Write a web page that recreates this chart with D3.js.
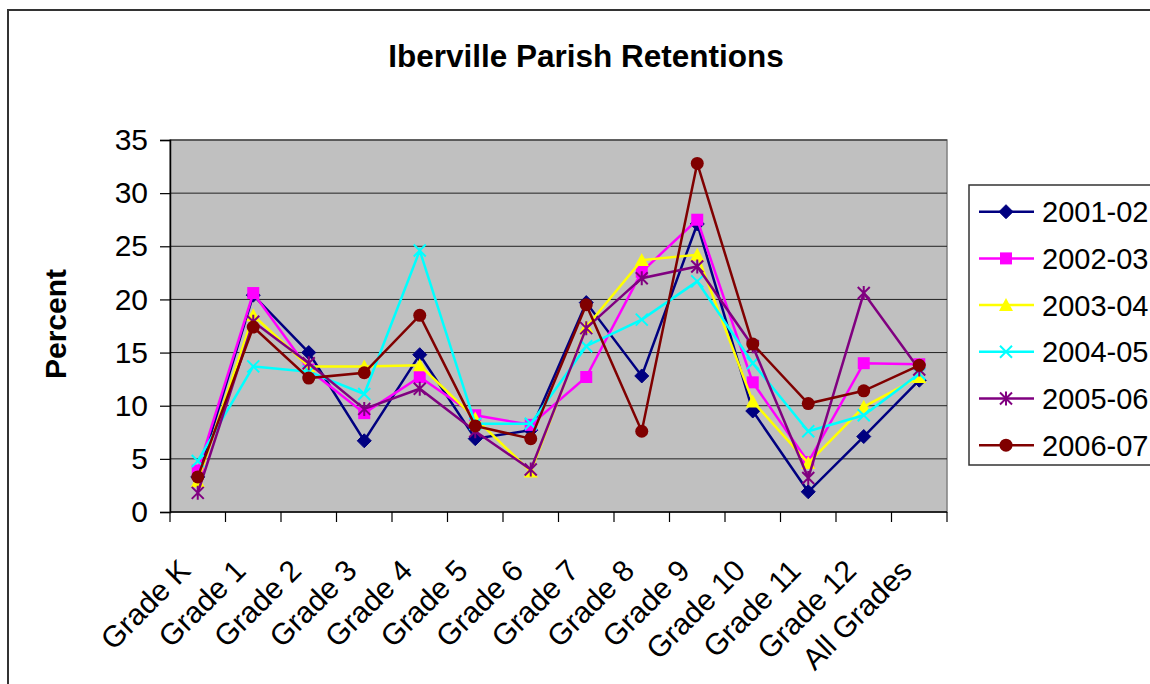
<!DOCTYPE html>
<html><head><meta charset="utf-8">
<script src="https://cdn.jsdelivr.net/npm/d3@7"></script>
<style>
html,body{margin:0;padding:0;background:#fff;overflow:hidden;}
text{font-family:"Liberation Sans",Arial,sans-serif;}
</style></head>
<body><svg id="c" width="1150" height="684"></svg>
<script>
const categories = ["Grade K","Grade 1","Grade 2","Grade 3","Grade 4","Grade 5","Grade 6","Grade 7","Grade 8","Grade 9","Grade 10","Grade 11","Grade 12","All Grades"];
const seriesNames = ["2001-02","2002-03","2003-04","2004-05","2005-06","2006-07"];
const s2001 = [3.3, 20.4, 15.0, 6.7, 14.8, 6.9, 7.7, 19.7, 12.8, 27.1, 9.5, 1.9, 7.1, 12.4];
const s2002 = [3.9, 20.6, 13.4, 9.3, 12.7, 9.1, 8.2, 12.7, 22.6, 27.5, 12.2, 4.7, 14.0, 13.9];
const s2003 = [2.9, 18.5, 13.7, 13.7, 13.8, 8.8, 3.8, 17.4, 23.7, 24.2, 10.4, 4.6, 9.9, 12.7];
const s2004 = [4.8, 13.7, 13.2, 11.1, 24.6, 8.3, 8.3, 15.6, 18.1, 21.7, 14.0, 7.6, 9.1, 13.0];
const s2005 = [1.8, 17.9, 14.0, 9.7, 11.6, 7.6, 4.0, 17.3, 22.0, 23.1, 15.6, 3.2, 20.6, 13.4];
const s2006 = [3.3, 17.4, 12.6, 13.1, 18.5, 8.1, 6.9, 19.5, 7.6, 32.8, 15.8, 10.2, 11.4, 13.8];
const yTicks = [0,5,10,15,20,25,30,35];
const colors = ["#000080","#FF00FF","#FFFF00","#00FFFF","#800080","#800000"];
const markers = ["diamond","square","triangle","x","star","circle"];
const allSeries = [s2001,s2002,s2003,s2004,s2005,s2006];

const svg = d3.select("#c");
const L=170, R=947, T=140, B=512;

// outer frame
svg.append("rect").attr("x",8).attr("y",10).attr("width",1200).attr("height",720)
  .attr("fill","#fff").attr("stroke","#333").attr("stroke-width",2);

const x = d3.scaleBand().domain(categories).range([L,R]).padding(0);
const y = d3.scaleLinear().domain([0,35]).range([B,T]);

// plot area
svg.append("rect").attr("x",L).attr("y",T).attr("width",R-L).attr("height",B-T)
  .attr("fill","#C0C0C0").attr("stroke","#808080").attr("stroke-width",1.5);

// gridlines
svg.append("g").selectAll("line").data(yTicks.filter(d=>d>0)).join("line")
  .attr("x1",L).attr("x2",R).attr("y1",d=>y(d)).attr("y2",d=>y(d))
  .attr("stroke","#222").attr("stroke-width",1);

// y axis
const yAxis = d3.axisLeft(y).tickValues(yTicks).tickSize(10).tickPadding(12).tickFormat(d3.format("d"));
const gy = svg.append("g").attr("transform",`translate(${L},0)`).call(yAxis);
gy.select(".domain").attr("stroke","#000").attr("stroke-width",1.5);
gy.selectAll(".tick line").attr("stroke","#000").attr("stroke-width",1.2);
gy.selectAll(".tick text").attr("font-size",30).attr("fill","#000")
  .attr("font-family","'Liberation Sans',Arial,sans-serif");

// x axis
const gx = svg.append("g").attr("transform",`translate(0,${B})`);
gx.append("line").attr("x1",L).attr("x2",R).attr("stroke","#000").attr("stroke-width",1.5);
const bounds = categories.map(c=>x(c)).concat([R]);
gx.selectAll("line.t").data(bounds).join("line").attr("class","t")
  .attr("x1",d=>d).attr("x2",d=>d).attr("y1",0).attr("y2",10).attr("stroke","#000").attr("stroke-width",1.2);
svg.append("g").selectAll("text").data(categories).join("text")
  .attr("transform",d=>`translate(${x(d)+x.bandwidth()/2-13},565) rotate(-45)`)
  .attr("text-anchor","end").attr("dy","0.35em").attr("font-size",30).attr("fill","#000").text(d=>d);

// title
svg.append("text").attr("x",586).attr("y",67).attr("text-anchor","middle")
  .attr("font-size",31.5).attr("font-weight","bold").text("Iberville Parish Retentions");
// y label
svg.append("text").attr("transform","translate(66,324) rotate(-90)").attr("text-anchor","middle")
  .attr("font-size",30).attr("font-weight","bold").text("Percent");

function drawMarker(g, type, color){
  if(type==="diamond"){
    g.append("path").attr("d","M0,-7L7,0L0,7L-7,0Z").attr("fill",color).attr("stroke",color);
  } else if(type==="square"){
    g.append("rect").attr("x",-6).attr("y",-6).attr("width",12).attr("height",12).attr("fill",color);
  } else if(type==="triangle"){
    g.append("path").attr("d","M0,-7L7,6L-7,6Z").attr("fill",color);
  } else if(type==="circle"){
    g.append("circle").attr("r",6.5).attr("fill",color);
  } else if(type==="x"){
    g.append("path").attr("d","M-6,-6L6,6M-6,6L6,-6").attr("stroke",color).attr("stroke-width",2).attr("fill","none");
  } else if(type==="star"){
    g.append("path").attr("d","M-6,-6L6,6M-6,6L6,-6M0,-7L0,7").attr("stroke",color).attr("stroke-width",2).attr("fill","none");
  }
}

const line = d3.line().x((d,i)=>x(categories[i])+x.bandwidth()/2).y(d=>y(d));
allSeries.forEach((s,k)=>{
  const g = svg.append("g");
  g.append("path").datum(s).attr("d",line).attr("fill","none")
    .attr("stroke",colors[k]).attr("stroke-width",2.5).attr("stroke-linejoin","miter");
  s.forEach((v,i)=>{
    const mg = g.append("g").attr("transform",`translate(${x(categories[i])+x.bandwidth()/2},${y(v)})`);
    drawMarker(mg, markers[k], colors[k]);
  });
});

// legend
const lg = svg.append("g");
lg.append("rect").attr("x",969).attr("y",185).attr("width",250).attr("height",280)
  .attr("fill","#fff").attr("stroke","#333").attr("stroke-width",1.5);
seriesNames.forEach((n,k)=>{
  const yy = 211.7 + k*46.7;
  lg.append("line").attr("x1",979).attr("x2",1034).attr("y1",yy).attr("y2",yy)
    .attr("stroke",colors[k]).attr("stroke-width",2.5);
  drawMarker(lg.append("g").attr("transform",`translate(1006,${yy})`), markers[k], colors[k]);
  lg.append("text").attr("x",1042).attr("y",yy).attr("dy","0.36em").attr("font-size",29).text(n);
});
</script></body></html>
